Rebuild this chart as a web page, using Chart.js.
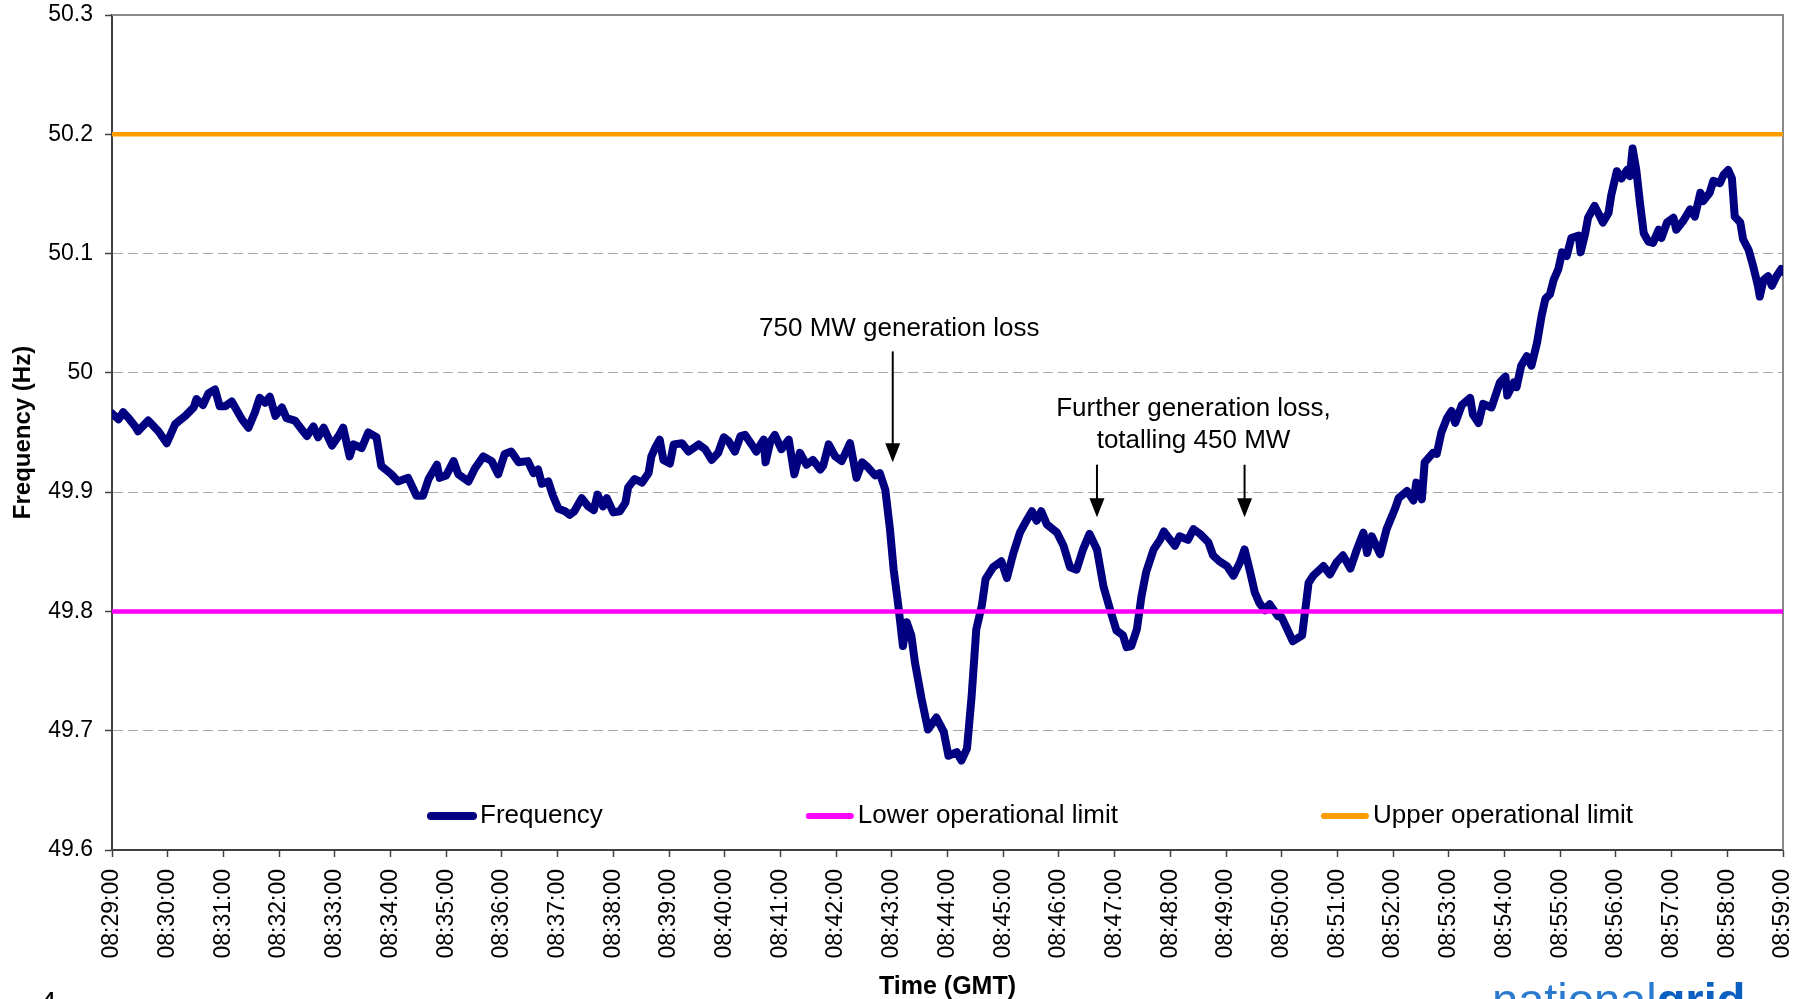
<!DOCTYPE html>
<html>
<head>
<meta charset="utf-8">
<title>System frequency</title>
<script src="https://cdn.jsdelivr.net/npm/chart.js@4.4.1/dist/chart.umd.min.js"></script>
<style>
  html, body { margin: 0; padding: 0; background: #fff; overflow: hidden; }
  #wrap { position: relative; width: 1811px; height: 999px; }
  #page { position: absolute; left: 40px; top: 987px; font: 30px 'Liberation Sans', Arial, sans-serif; line-height: 1; }
  #logo { position: absolute; left: 1492px; top: 976px; font: 47px 'Liberation Sans', Arial, sans-serif; line-height: 1; color: #2a7bd0; white-space: nowrap; }
  #logo b { color: #0b60c0; }
</style>
</head>
<body>
<div id="wrap">
  <canvas id="freqChart" width="1811" height="999"></canvas>
  <div id="page">4</div>
  <div id="logo">national<b>grid</b></div>
</div>
<script>
// seconds after 08:29:00
const sampleSeconds = [
  0, 7, 12, 18, 25, 28, 39, 50, 59, 68, 79, 88, 91, 98, 104, 111, 116, 122, 129, 140,
  147, 154, 159, 165, 170, 176, 183, 188, 197, 204, 210, 217, 222, 228, 237, 244, 249, 256, 260, 269,
  276, 285, 290, 301, 308, 319, 328, 335, 341, 350, 353, 360, 368, 373, 384, 391, 400, 409, 416, 423,
  430, 438, 448, 454, 459, 463, 470, 475, 481, 488, 493, 498, 506, 513, 519, 523, 529, 533, 540, 547,
  553, 556, 563, 571, 578, 581, 585, 590, 594, 601, 605, 614, 621, 632, 639, 646, 653, 659, 664, 671,
  677, 682, 689, 694, 702, 704, 709, 714, 721, 729, 735, 741, 748, 755, 763, 766, 772, 779, 786, 795,
  802, 808, 814, 822, 827, 833, 838, 842, 847, 852, 856, 861, 865, 872, 879, 888, 896, 901, 910, 915,
  921, 926, 931, 937, 941, 949, 958, 964, 971, 978, 985, 991, 996, 1001, 1007, 1018, 1025, 1032, 1039, 1046,
  1053, 1061, 1068, 1075, 1082, 1089, 1093, 1098, 1104, 1109, 1114, 1122, 1129, 1133, 1140, 1145, 1150, 1159, 1165, 1172,
  1181, 1186, 1193, 1201, 1208, 1215, 1220, 1226, 1231, 1236, 1242, 1247, 1256, 1260, 1272, 1282, 1289, 1294, 1305, 1312,
  1319, 1326, 1334, 1341, 1348, 1352, 1357, 1366, 1373, 1382, 1386, 1395, 1402, 1405, 1411, 1414, 1423, 1427, 1432, 1438,
  1443, 1447, 1454, 1463, 1466, 1472, 1477, 1486, 1495, 1501, 1503, 1510, 1513, 1518, 1524, 1529, 1535, 1540, 1544, 1549,
  1553, 1558, 1562, 1567, 1572, 1580, 1582, 1587, 1590, 1597, 1601, 1606, 1612, 1615, 1621, 1626, 1632, 1635, 1638, 1642,
  1646, 1650, 1655, 1660, 1666, 1669, 1675, 1682, 1685, 1693, 1700, 1705, 1711, 1714, 1721, 1725, 1732, 1736, 1741, 1745,
  1748, 1754, 1757, 1763, 1768, 1773, 1775, 1779, 1784, 1788, 1793, 1798, 1800
];
const frequencyHz = [
  49.966, 49.961, 49.967, 49.962, 49.955, 49.951, 49.960, 49.951, 49.941, 49.957, 49.964, 49.971, 49.978, 49.973, 49.983, 49.986, 49.972, 49.972, 49.976, 49.961,
  49.954, 49.967, 49.979, 49.975, 49.980, 49.964, 49.971, 49.962, 49.960, 49.953, 49.947, 49.955, 49.946, 49.954, 49.939, 49.947, 49.954, 49.930, 49.940, 49.937,
  49.950, 49.946, 49.922, 49.915, 49.909, 49.912, 49.897, 49.897, 49.911, 49.923, 49.912, 49.914, 49.926, 49.915, 49.909, 49.920, 49.930, 49.926, 49.915, 49.932,
  49.934, 49.925, 49.926, 49.916, 49.919, 49.907, 49.909, 49.897, 49.886, 49.884, 49.881, 49.884, 49.895, 49.888, 49.885, 49.898, 49.888, 49.895, 49.883, 49.884,
  49.891, 49.904, 49.911, 49.908, 49.916, 49.930, 49.937, 49.944, 49.927, 49.924, 49.940, 49.941, 49.934, 49.940, 49.936, 49.927, 49.933, 49.946, 49.943, 49.934,
  49.947, 49.948, 49.940, 49.934, 49.944, 49.925, 49.942, 49.948, 49.936, 49.944, 49.915, 49.933, 49.923, 49.927, 49.919, 49.922, 49.940, 49.930, 49.926, 49.941,
  49.912, 49.925, 49.921, 49.914, 49.916, 49.902, 49.869, 49.835, 49.805, 49.771, 49.791, 49.780, 49.757, 49.727, 49.701, 49.711, 49.699, 49.679, 49.682, 49.675,
  49.685, 49.729, 49.785, 49.805, 49.827, 49.837, 49.842, 49.828, 49.849, 49.866, 49.876, 49.884, 49.876, 49.884, 49.873, 49.866, 49.855, 49.837, 49.835, 49.852,
  49.865, 49.852, 49.821, 49.802, 49.784, 49.780, 49.770, 49.771, 49.785, 49.813, 49.833, 49.852, 49.860, 49.867, 49.860, 49.855, 49.863, 49.860, 49.869, 49.865,
  49.858, 49.847, 49.842, 49.838, 49.830, 49.841, 49.852, 49.833, 49.816, 49.807, 49.801, 49.806, 49.796, 49.795, 49.775, 49.780, 49.824, 49.830, 49.838, 49.831,
  49.841, 49.847, 49.836, 49.852, 49.866, 49.849, 49.863, 49.848, 49.869, 49.886, 49.895, 49.901, 49.893, 49.908, 49.894, 49.925, 49.933, 49.932, 49.950, 49.962,
  49.968, 49.958, 49.973, 49.979, 49.965, 49.958, 49.974, 49.971, 49.992, 49.997, 49.981, 49.992, 49.988, 50.006, 50.014, 50.006, 50.025, 50.048, 50.062, 50.066,
  50.078, 50.087, 50.101, 50.098, 50.113, 50.115, 50.101, 50.117, 50.130, 50.140, 50.134, 50.126, 50.134, 50.149, 50.169, 50.163, 50.170, 50.165, 50.188, 50.170,
  50.142, 50.117, 50.110, 50.109, 50.120, 50.113, 50.126, 50.130, 50.120, 50.128, 50.137, 50.131, 50.151, 50.144, 50.151, 50.161, 50.159, 50.166, 50.170, 50.163,
  50.131, 50.126, 50.112, 50.103, 50.089, 50.073, 50.064, 50.078, 50.081, 50.073, 50.081, 50.087, 50.085
];
const lowerLimit = 49.8;
const upperLimit = 50.2;

const tickLabels = [
  '08:29:00', '08:30:00', '08:31:00', '08:32:00', '08:33:00', '08:34:00', '08:35:00', '08:36:00',
  '08:37:00', '08:38:00', '08:39:00', '08:40:00', '08:41:00', '08:42:00', '08:43:00', '08:44:00',
  '08:45:00', '08:46:00', '08:47:00', '08:48:00', '08:49:00', '08:50:00', '08:51:00', '08:52:00',
  '08:53:00', '08:54:00', '08:55:00', '08:56:00', '08:57:00', '08:58:00', '08:59:00'
];
const yTickLabels = ['49.6', '49.7', '49.8', '49.9', '50', '50.1', '50.2', '50.3'];

// annotation arrows (time in s, frequency of shaft top and of tip)
const arrowSeconds = [841, 1061, 1220];
const arrowTop = [50.018, 49.923, 49.923];
const arrowTip = [49.925, 49.879, 49.879];
const noteLines = [['750 MW generation loss'], ['Further generation loss,', 'totalling 450 MW']];
const noteSeconds = [848, 1165];
const noteFreq = [50.037, 49.970];

// Arial Narrow look-alike if it is installed
const probe = document.createElement('canvas').getContext('2d');
probe.font = '31px "Liberation Sans Narrow", monospace';
const narrow = probe.measureText('Frequency').width < 140;
const noteFont = narrow ? '31px "Liberation Sans Narrow"' : '26px "Liberation Sans", Arial';
const xTitleFont = narrow ? { family: 'Liberation Sans Narrow', size: 30, weight: 'bold', lineHeight: 1 }
                          : { size: 25, weight: 'bold', lineHeight: 1.2 };

Chart.defaults.font.family = '"Liberation Sans", Arial, sans-serif';
Chart.defaults.color = '#000';

const decor = {
  id: 'decor',
  beforeDatasetsDraw(chart) {
    const { ctx, chartArea: a } = chart;
    ctx.save();
    ctx.strokeStyle = '#8a8a8a';
    ctx.lineWidth = 2;
    ctx.beginPath();
    ctx.moveTo(a.left, a.top); ctx.lineTo(a.right, a.top); ctx.lineTo(a.right, a.bottom);
    ctx.stroke();
    ctx.restore();
  },
  afterDraw(chart) {
    const { ctx, chartArea: a, scales: { x, y } } = chart;
    ctx.save();
    // arrows
    ctx.strokeStyle = '#000';
    ctx.fillStyle = '#000';
    ctx.lineWidth = 2;
    arrowSeconds.forEach((s, i) => {
      const px = x.getPixelForValue(s);
      const y0 = y.getPixelForValue(arrowTop[i]);
      const y1 = y.getPixelForValue(arrowTip[i]);
      ctx.beginPath();
      ctx.moveTo(px, y0); ctx.lineTo(px, y1 - 15);
      ctx.stroke();
      ctx.beginPath();
      ctx.moveTo(px - 7.5, y1 - 19); ctx.lineTo(px + 7.5, y1 - 19); ctx.lineTo(px, y1);
      ctx.closePath();
      ctx.fill();
    });
    // notes
    ctx.font = noteFont;
    ctx.textAlign = 'center';
    ctx.textBaseline = 'middle';
    noteLines.forEach((lines, i) => {
      const px = x.getPixelForValue(noteSeconds[i]);
      const py = y.getPixelForValue(noteFreq[i]);
      lines.forEach((t, j) => ctx.fillText(t, px, py + j * 32));
    });
    // legend inside the plot
    ctx.textAlign = 'left';
    let lx = 427;
    const ly = a.bottom - 34;
    chart.data.datasets.forEach((ds, i) => {
      ctx.strokeStyle = ds.borderColor;
      ctx.lineWidth = i === 0 ? 8 : 6;
      ctx.lineCap = 'round';
      ctx.beginPath();
      ctx.moveTo(lx + 4, ly); ctx.lineTo(lx + 46, ly);
      ctx.stroke();
      ctx.fillStyle = '#000';
      ctx.fillText(ds.label, lx + 53, ly);
      lx += 53 + ctx.measureText(ds.label).width + 202;
    });
    ctx.restore();
  }
};

const ctx = document.getElementById('freqChart').getContext('2d');
const freqChart = new Chart(ctx, {
  type: 'line',
  data: {
    datasets: [
      {
        label: 'Frequency',
        data: sampleSeconds.map((s, i) => ({ x: s, y: frequencyHz[i] })),
        borderColor: '#000080',
        backgroundColor: '#000080',
        borderWidth: 8,
        borderJoinStyle: 'round',
        borderCapStyle: 'round',
        pointRadius: 0,
        tension: 0,
        order: 1
      },
      {
        label: 'Lower operational limit',
        data: [{ x: 0, y: lowerLimit }, { x: 1800, y: lowerLimit }],
        borderColor: '#ff00ff',
        borderWidth: 4.5,
        pointRadius: 0,
        order: 0
      },
      {
        label: 'Upper operational limit',
        data: [{ x: 0, y: upperLimit }, { x: 1800, y: upperLimit }],
        borderColor: '#ff9c00',
        borderWidth: 4.5,
        pointRadius: 0,
        order: 0
      }
    ]
  },
  options: {
    responsive: false,
    animation: false,
    layout: { padding: { top: 15, right: 28, left: 0, bottom: 0 } },
    plugins: {
      legend: { display: false },
      tooltip: { enabled: false }
    },
    scales: {
      x: {
        type: 'linear',
        min: 0,
        max: 1800,
        afterFit: s => { s.height = 149; s.paddingLeft = 0; s.paddingRight = 0; },
        ticks: {
          stepSize: 60, autoSkip: false, minRotation: 90, maxRotation: 90, padding: 12,
          font: { size: 23 },
          callback: (v, i) => tickLabels[i]
        },
        grid: { drawOnChartArea: false, tickLength: 7, tickColor: '#404040', tickWidth: 1.5 },
        border: { color: '#404040', width: 2 },
        title: { display: true, text: 'Time (GMT)', font: xTitleFont, padding: { top: 0, bottom: -3 } }
      },
      y: {
        min: 49.6,
        max: 50.3,
        afterFit: s => { s.width = 112; s.paddingTop = 0; s.paddingBottom = 0; },
        ticks: {
          stepSize: 0.1, padding: 12,
          font: { size: 23 },
          callback: (v, i) => yTickLabels[i]
        },
        grid: { color: '#a8a8a8', lineWidth: 1, tickLength: 7, tickColor: '#404040', tickWidth: 1.5 },
        border: { color: '#404040', width: 2, dash: [10, 5] },
        title: { display: true, text: 'Frequency (Hz)', font: { size: 24, weight: 'bold' }, padding: { top: 9, bottom: 0 } }
      }
    }
  },
  plugins: [decor]
});
</script>
</body>
</html>
